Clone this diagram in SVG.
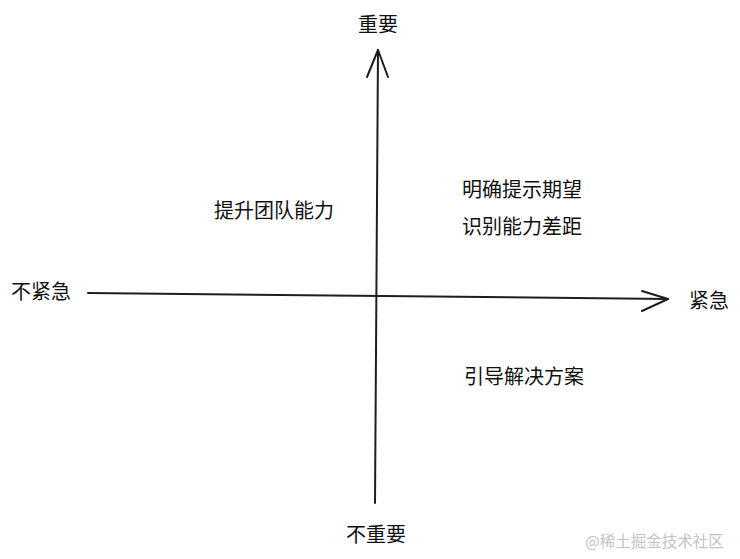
<svg xmlns="http://www.w3.org/2000/svg" width="740" height="559" viewBox="0 0 740 559">
<style>
.t{font-family:"Noto Sans CJK SC","Noto Sans",sans-serif;font-size:20px;fill:#111}
.ax{fill:none;stroke:#1e1e1e;stroke-width:2;stroke-linecap:round;stroke-linejoin:round}
.wm{font-family:"Noto Sans CJK SC","Noto Sans",sans-serif;font-size:15.5px;fill:#c4c4c4}
</style>
<rect width="740" height="559" fill="#fff"/>
<g id="connectors">
<path class="ax" d="M375 503 L378 50"/>
<path class="ax" d="M367 77 L378 50 L388 77"/>
<path class="ax" d="M88 293 L668 299"/>
<path class="ax" d="M642 291 L668 299 L642 311"/>
</g>
<g id="label-important"><text class="t" x="358" y="32">重要</text></g>
<g id="label-not-important"><text class="t" x="346" y="542">不重要</text></g>
<g id="label-urgent"><text class="t" x="689" y="308">紧急</text></g>
<g id="label-not-urgent"><text class="t" x="11" y="299">不紧急</text></g>
<g id="q-top-left"><text class="t" x="214" y="218">提升团队能力</text></g>
<g id="q-top-right">
<text class="t" x="462" y="197">明确提示期望</text>
<text class="t" x="462" y="234">识别能力差距</text>
</g>
<g id="q-bottom-right"><text class="t" x="464" y="384">引导解决方案</text></g>
<text class="wm" x="585" y="547">@稀土掘金技术社区</text>
</svg>
